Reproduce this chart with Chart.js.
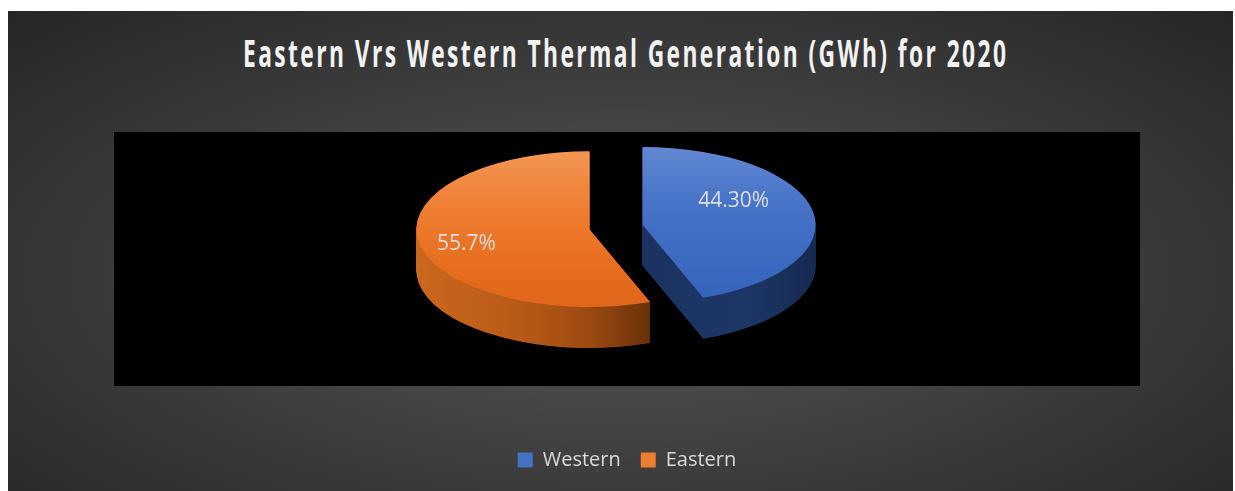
<!DOCTYPE html>
<html lang="en">

<head>
  <meta charset="UTF-8">
  <script src="https://cdn.jsdelivr.net/npm/chart.js"></script>
  <style>
    html, body { margin: 0; padding: 0; background: #fff; }
    .chart-box {
      position: absolute; left: 8px; top: 11px; width: 1225px; height: 480px;
      background: radial-gradient(ellipse farthest-corner at 50% 55%, #585858 0%, #3c3c3c 55%, #262626 100%);
      overflow: hidden;
    }
    .chart-title {
      position: absolute; left: 0; right: 0; top: 22px; margin: 0;
      text-align: center; color: #f2f2f2; white-space: nowrap;
      font: 700 38px/1 "Open Sans", sans-serif; letter-spacing: 4px;
      transform: translateX(-10px) scaleX(0.6);
    }
    .plot { position: absolute; left: 0; top: 0; width: 100%; height: 100%; }
  </style>
</head>

<body>
  <div class="chart-box">
    <h1 class="chart-title">Eastern Vrs Western Thermal Generation (GWh) for 2020</h1>
    <div class="plot"><canvas id="thermalPie"></canvas></div>
  </div>

  <script>
    const regions = ['Western', 'Eastern'];
    const shares = [44.30, 55.7];
    const shareLabels = ['44.30%', '55.7%'];

    const legendColors = ['#4472C4', '#ED7D31'];
    // top face shading (vertical) and wall shading (horizontal) per slice
    const topStops = [
      [[0, '#6388d2'], [0.35, '#4774c8'], [1, '#3563bd']],
      [[0, '#f29655'], [0.35, '#ef7f33'], [0.7, '#e86f20'], [1, '#df661a']]
    ];
    const sideStops = [
      [[0.5, '#1c3362'], [0.8, '#1d3665'], [1, '#152a50']],
      [[0, '#cb671e'], [0.3, '#b85a18'], [0.5, '#9c4a12'], [0.675, '#6a3008'], [1, '#5a2a06']]
    ];

    // draw an arc element with a different fill, keeping the library geometry
    function paintArc(arc, ctx, fill) {
      const own = arc.options;
      arc.options = Object.assign({}, own, { backgroundColor: fill, borderWidth: 0 });
      arc.draw(ctx);
      arc.options = own;
    }

    function gradient(ctx, x0, y0, x1, y1, stops) {
      const g = ctx.createLinearGradient(x0, y0, x1, y1);
      stops.forEach(([p, c]) => g.addColorStop(p, c));
      return g;
    }

    const midAngle = (arc) => (arc.startAngle + arc.endAngle) / 2;

    const pie3d = {
      id: 'pie3d',
      beforeDraw(chart) {
        const { ctx, chartArea: a } = chart;
        ctx.save();
        ctx.fillStyle = '#000';
        ctx.fillRect(a.left, a.top, a.width, a.height);
        ctx.restore();
      },
      beforeDatasetsDraw(chart, args, opts) {
        const ctx = chart.ctx;
        const arcs = chart.getDatasetMeta(0).data;
        const { x: cx, y: cy, outerRadius: r } = arcs[0];
        // tilt the pie into an ellipse and pull each slice out along its middle
        const view = (arc) => {
          ctx.translate(opts.shiftX, opts.shiftY);
          ctx.translate(cx, cy);
          ctx.scale(1, opts.tilt);
          ctx.translate(-cx, -cy);
          const m = midAngle(arc);
          ctx.translate(Math.cos(m) * opts.explode, Math.sin(m) * opts.explode);
        };

        // walls: stack the slice shape downwards
        for (let d = opts.depth; d > 0; d -= 0.5) {
          arcs.forEach((arc, i) => {
            ctx.save();
            ctx.translate(0, d);
            view(arc);
            paintArc(arc, ctx, gradient(ctx, cx - r, 0, cx + r, 0, sideStops[i]));
            ctx.restore();
          });
        }

        // top faces
        arcs.forEach((arc, i) => {
          ctx.save();
          view(arc);
          paintArc(arc, ctx, gradient(ctx, 0, cy - r, 0, cy + r, topStops[i]));
          ctx.restore();
        });
        return false;
      },
      afterDraw(chart, args, opts) {
        const ctx = chart.ctx;
        const arcs = chart.getDatasetMeta(0).data;
        ctx.save();
        ctx.font = '21px "Open Sans", sans-serif';
        ctx.fillStyle = '#dedede';
        ctx.textAlign = 'center';
        ctx.textBaseline = 'middle';
        arcs.forEach((arc, i) => {
          const m = midAngle(arc);
          const dist = arc.outerRadius * opts.labelAt + opts.explode;
          const lx = Math.cos(m) * dist + opts.labelNudge[i][0];
          const ly = Math.sin(m) * dist * opts.tilt + opts.labelNudge[i][1];
          ctx.fillText(shareLabels[i], arc.x + opts.shiftX + lx, arc.y + opts.shiftY + ly);
        });
        ctx.restore();
      }
    };

    new Chart(document.getElementById('thermalPie'), {
      type: 'pie',
      data: {
        labels: regions,
        datasets: [{
          data: shares,
          backgroundColor: legendColors,
          borderWidth: 0,
          radius: 173
        }]
      },
      options: {
        responsive: true,
        maintainAspectRatio: false,
        animation: false,
        layout: { padding: { top: 121, left: 106, right: 93, bottom: 11 } },
        plugins: {
          tooltip: { enabled: false },
          legend: {
            position: 'bottom',
            title: { display: true, text: '', font: { size: 10, lineHeight: 1 }, padding: { top: 0, bottom: 34 } },
            labels: {
              boxWidth: 15,
              boxHeight: 15,
              padding: 20,
              color: '#d9d9d9',
              font: { family: '"Open Sans", sans-serif', size: 20 }
            }
          },
          pie3d: {
            tilt: 0.45,
            depth: 41,
            explode: 27,
            shiftX: -11,
            shiftY: -32,
            labelAt: 0.57,
            labelNudge: [[-6, -16], [-26, 7]]
          }
        }
      },
      plugins: [pie3d]
    });
  </script>
</body>

</html>
